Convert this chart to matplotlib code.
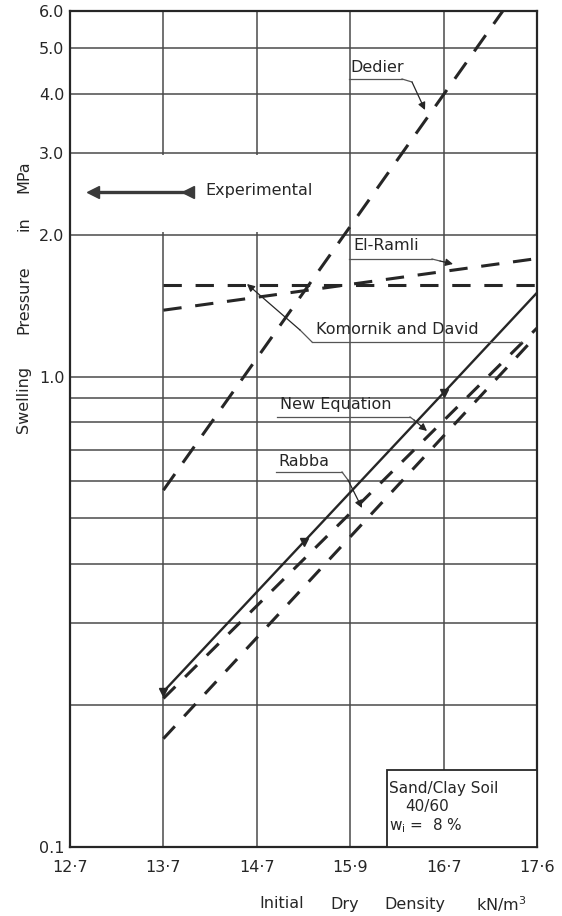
import matplotlib.pyplot as plt
from matplotlib.patches import Rectangle

# x axis is drawn at evenly spaced positions, labelled as printed on the chart
x_labels = ["12·7", "13·7", "14·7", "15·9", "16·7", "17·6"]
x_pos = [0, 1, 2, 3, 4, 5]

y_major = [0.1, 1.0, 2.0, 3.0, 4.0, 5.0, 6.0]
y_major_labels = ["0.1", "1.0", "2.0", "3.0", "4.0", "5.0", "6.0"]
y_minor = [0.2, 0.3, 0.4, 0.5, 0.6, 0.7, 0.8, 0.9]

# swelling pressure (MPa)
exp_x = [1, 2.5, 4, 5]
exp_y = [0.214, 0.445, 0.925, 1.51]
new_eq_x = [1, 5]
new_eq_y = [0.207, 1.27]
rabba_x = [1, 5]
rabba_y = [0.170, 1.227]
dedier_x = [1, 5]
dedier_y = [0.574, 7.6]
el_ramli_x = [1, 5]
el_ramli_y = [1.386, 1.785]
komornik_x = [1, 5]
komornik_y = [1.565, 1.565]

INK = "#262626"
GRID = "#4a4a4a"
FS = 11.5


def ref(x, y):
    # reference pixel -> axes fraction
    return ((x - 70) / 467, (847 - y) / 836)


fig = plt.figure(figsize=(5.62, 9.16), dpi=100)
ax = fig.add_axes([70 / 562, 69 / 916, 467 / 562, 836 / 916])
ax.set_yscale("log")
ax.set_xlim(0, 5)
ax.set_ylim(0.1, 6.0)

ax.set_xticks(x_pos)
ax.set_xticklabels(x_labels, fontsize=FS, color=INK)
ax.set_yticks(y_major)
ax.set_yticklabels(y_major_labels, fontsize=FS, color=INK)
ax.set_yticks(y_minor, minor=True)
ax.set_yticklabels([], minor=True)
ax.tick_params(which="both", length=0)
ax.tick_params(axis="x", pad=9)
ax.tick_params(axis="y", pad=4)
ax.set_axisbelow(True)
ax.grid(True, which="major", axis="both", color=GRID, lw=1.1)
ax.grid(True, which="minor", axis="y", color=GRID, lw=1.1)
for s in ax.spines.values():
    s.set_color(INK)
    s.set_linewidth(1.6)

# blank panel for the legend between 2.0 and 3.0
ax.add_patch(Rectangle((0.02, 2.03), 2.96, 0.94, facecolor="white",
                       edgecolor="none", zorder=1))

# data lines
ax.plot(dedier_x, dedier_y, color=INK, lw=2.2, dashes=(6.5, 4.5), zorder=3)
ax.plot(el_ramli_x, el_ramli_y, color=INK, lw=2.2, dashes=(6, 4.5), zorder=3)
ax.plot(komornik_x, komornik_y, color=INK, lw=2.2, dashes=(6, 4.5), zorder=3)
ax.plot(new_eq_x, new_eq_y, color=INK, lw=2.2, dashes=(5.5, 4.5), zorder=3)
ax.plot(rabba_x, rabba_y, color=INK, lw=2.2, dashes=(5.5, 4.5), zorder=3)
ax.plot(exp_x, exp_y, color=INK, lw=1.7, marker="v", markersize=6,
        markevery=[0, 1, 2], zorder=4)

# legend sample
lx0, ly = ref(93, 192)
lx1, _ = ref(188, 192)
ax.plot([lx0, lx1], [ly, ly], transform=ax.transAxes, color="#3a3a3a", lw=2.4,
        zorder=4)
ax.plot([lx0, lx1], [ly, ly], transform=ax.transAxes, ls="none", marker="<",
        markersize=8, color="#3a3a3a", zorder=4)
ax.text(*ref(205, 191), "Experimental", transform=ax.transAxes, fontsize=FS,
        color=INK, va="center", ha="left", zorder=5)

# labels with underline and leader
notes = [
    ("Dedier", (350, 67), (349, 402, 79), [(402, 79), (412, 82)], (425, 110)),
    ("El-Ramli", (353, 245), (349, 432, 259), [(432, 259), (440, 261)], (453, 264)),
    ("Komornik and David", (316, 329), (312, 522, 342), [(312, 342), (300, 330)], (247, 284)),
    ("New Equation", (280, 405), (277, 410, 417), [(410, 417), (414, 420)], (427, 431)),
    ("Rabba", (278, 461), (276, 342, 472), [(342, 472), (348, 480)], (362, 508)),
]
for label, tpos, (u0, u1, uy), lead, tip in notes:
    ax.text(*ref(*tpos), label, transform=ax.transAxes, fontsize=FS,
            color=INK, va="center", ha="left", zorder=5)
    a, b = ref(u0, uy), ref(u1, uy)
    ax.plot([a[0], b[0]], [a[1], b[1]], transform=ax.transAxes, color="#555",
            lw=0.9, zorder=5)
    p0, p1 = ref(*lead[0]), ref(*lead[1])
    ax.plot([p0[0], p1[0]], [p0[1], p1[1]], transform=ax.transAxes,
            color="#555", lw=0.9, zorder=5)
    ax.annotate("", xy=ref(*tip), xytext=p1, xycoords="axes fraction",
                textcoords="axes fraction", zorder=5,
                arrowprops=dict(arrowstyle="-|>", color=INK, lw=0.9,
                                mutation_scale=11, shrinkA=0, shrinkB=0))

# soil info box
ax.add_patch(Rectangle((3.39, 0.1), 1.61, 0.0455, facecolor="white",
                       edgecolor=INK, lw=1.3, zorder=5))
ax.text(*ref(389, 788), "Sand/Clay Soil", transform=ax.transAxes, fontsize=11,
        color=INK, va="center", ha="left", zorder=6)
ax.text(*ref(405, 807), "40/60", transform=ax.transAxes, fontsize=11,
        color=INK, va="center", ha="left", zorder=6)
ax.text(*ref(389, 826), r"w$_{\rm i}$ =  8 %", transform=ax.transAxes,
        fontsize=11, color=INK, va="center", ha="left", zorder=6)

# axis titles, word by word as spaced on the drawing
for word, xc in [("Initial", 282), ("Dry", 345), ("Density", 415),
                 (r"kN/m$^3$", 501)]:
    fig.text(xc / 562, 1 - 904 / 916, word, fontsize=FS, color=INK,
             ha="center", va="center")
for word, yc in [("Swelling", 399), ("Pressure", 300), ("in", 224),
                 ("MPa", 177)]:
    fig.text(24 / 562, 1 - yc / 916, word, fontsize=FS, color=INK,
             ha="center", va="center", rotation=90)

fig.savefig("out.png", dpi=100)
